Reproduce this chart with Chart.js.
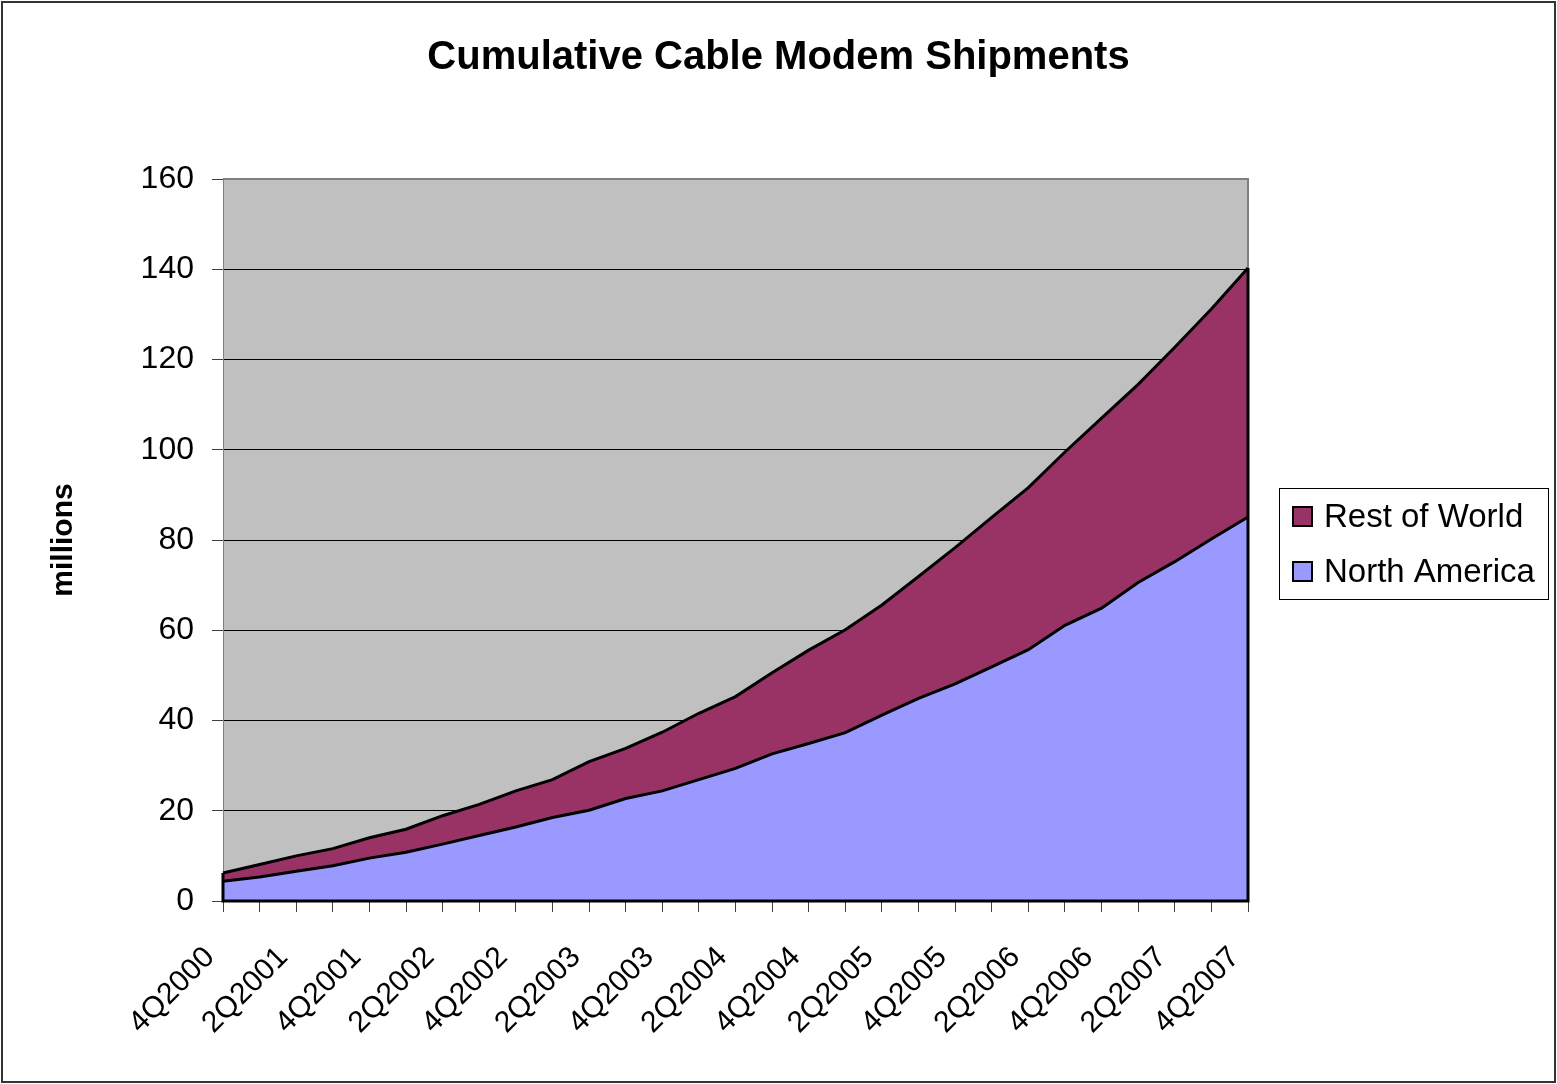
<!DOCTYPE html>
<html>
<head>
<meta charset="utf-8">
<title>Cumulative Cable Modem Shipments</title>
<script src="https://cdn.jsdelivr.net/npm/chart.js@4.4.0/dist/chart.umd.min.js"></script>
<style>
  html, body { margin: 0; padding: 0; background: #fff; }
  #wrap { width: 1557px; height: 1084px; }
</style>
</head>
<body>
<div id="wrap"><canvas id="chart0" width="1557" height="1084"></canvas></div>
<script>
var quarters = [
  "4Q2000",
  "1Q2001", "2Q2001", "3Q2001", "4Q2001",
  "1Q2002", "2Q2002", "3Q2002", "4Q2002",
  "1Q2003", "2Q2003", "3Q2003", "4Q2003",
  "1Q2004", "2Q2004", "3Q2004", "4Q2004",
  "1Q2005", "2Q2005", "3Q2005", "4Q2005",
  "1Q2006", "2Q2006", "3Q2006", "4Q2006",
  "1Q2007", "2Q2007", "3Q2007", "4Q2007"
];

// cumulative units, millions
var northAmerica = [
  4.4, 5.3, 6.6, 7.8, 9.5, 10.8, 12.6, 14.5, 16.4, 18.5,
  20.1, 22.7, 24.4, 26.9, 29.4, 32.6, 34.9, 37.3, 41.2, 44.9,
  48.1, 51.9, 55.7, 61.1, 64.9, 70.6, 75.2, 80.2, 85.1
];
var restOfWorld = [
  1.8, 2.8, 3.4, 3.8, 4.5, 5.1, 6.3, 6.9, 8.0, 8.4,
  10.8, 11.1, 13.0, 14.7, 15.9, 18.0, 20.7, 22.8, 24.4, 27.0,
  30.2, 33.1, 35.9, 38.4, 42.1, 43.9, 47.5, 51.0, 55.2
];

var yMin = 0;
var yMax = 160;
var yStep = 20;

var fontFamily = "'Liberation Sans', Arial, sans-serif";

// page frame, grey plot background and the plot border
var plotFrame = {
  id: "plotFrame",
  beforeDraw: function(chart) {
    var ctx = chart.ctx;
    var a = chart.chartArea;
    ctx.save();
    ctx.fillStyle = "#ffffff";
    ctx.fillRect(0, 0, chart.width, chart.height);
    ctx.strokeStyle = "#333333";
    ctx.lineWidth = 2;
    ctx.strokeRect(2, 2, chart.width - 4, chart.height - 4);
    ctx.fillStyle = "#c0c0c0";
    ctx.fillRect(a.left, a.top, a.right - a.left, a.bottom - a.top);
    ctx.restore();
  },
  beforeDatasetsDraw: function(chart) {
    var ctx = chart.ctx;
    var a = chart.chartArea;
    ctx.save();
    ctx.strokeStyle = "#808080";
    ctx.lineWidth = 2;
    ctx.beginPath();
    ctx.moveTo(a.left, a.top);
    ctx.lineTo(a.right, a.top);
    ctx.lineTo(a.right, a.bottom);
    ctx.stroke();
    ctx.restore();
  },
  // close the outline of the stacked areas at both ends and along the base
  afterDatasetsDraw: function(chart) {
    var ctx = chart.ctx;
    var pts = chart.getDatasetMeta(chart.data.datasets.length - 1).data;
    var first = pts[0];
    var last = pts[pts.length - 1];
    var y0 = chart.scales.y.getPixelForValue(0);
    ctx.save();
    ctx.strokeStyle = "#000000";
    ctx.lineWidth = 3;
    ctx.beginPath();
    ctx.moveTo(first.x, first.y);
    ctx.lineTo(first.x, y0);
    ctx.lineTo(last.x, y0);
    ctx.lineTo(last.x, last.y);
    ctx.stroke();
    ctx.restore();
  }
};

// boxed legend to the right of the plot, top series first
var boxLegend = {
  id: "boxLegend",
  afterDraw: function(chart) {
    var ctx = chart.ctx;
    var a = chart.chartArea;
    var left = a.right + 31;
    var top = (a.top + a.bottom) / 2 - 52;
    var items = chart.data.datasets.slice().reverse();
    ctx.save();
    ctx.strokeStyle = "#000000";
    ctx.lineWidth = 1;
    ctx.strokeRect(left + 0.5, top + 0.5, 269, 111);
    ctx.font = "33px " + fontFamily;
    ctx.textBaseline = "alphabetic";
    ctx.textAlign = "left";
    items.forEach(function(ds, i) {
      var base = top + 39 + i * 55;
      ctx.fillStyle = ds.backgroundColor;
      ctx.fillRect(left + 14, base - 20, 19, 19);
      ctx.lineWidth = 2;
      ctx.strokeRect(left + 14, base - 20, 19, 19);
      ctx.fillStyle = "#000000";
      ctx.fillText(ds.label, left + 45, base);
    });
    ctx.restore();
  }
};

var chartCanvas0 = document.getElementById("chart0").getContext("2d");

var chart0 = new Chart(chartCanvas0, {
  type: "line",
  data: {
    labels: quarters,
    datasets: [
      {
        label: "North America",
        data: northAmerica,
        backgroundColor: "#9999ff",
        borderColor: "#000000",
        borderWidth: 3,
        pointRadius: 0,
        tension: 0,
        fill: "origin"
      },
      {
        label: "Rest of World",
        data: restOfWorld,
        backgroundColor: "#993366",
        borderColor: "#000000",
        borderWidth: 3,
        pointRadius: 0,
        tension: 0,
        fill: "-1"
      }
    ]
  },
  options: {
    responsive: false,
    animation: false,
    plugins: {
      legend: { display: false },
      tooltip: { enabled: false },
      title: {
        display: true,
        text: "Cumulative Cable Modem Shipments",
        color: "#000000",
        font: { family: fontFamily, size: 40, weight: "bold" },
        padding: { top: 34, bottom: 97 }
      }
    },
    scales: {
      x: {
        offset: false,
        grid: {
          drawOnChartArea: false,
          tickLength: 11,
          tickColor: "#404040"
        },
        border: { color: "#000000", width: 2 },
        ticks: {
          autoSkip: false,
          minRotation: 45,
          maxRotation: 45,
          padding: 28,
          labelOffset: -13,
          color: "#000000",
          font: { family: fontFamily, size: 30 },
          callback: function(value, index) {
            return index % 2 === 0 ? this.getLabelForValue(value) : "";
          }
        },
        afterFit: function(scale) { scale.height = 183; }
      },
      y: {
        stacked: true,
        min: yMin,
        max: yMax,
        grid: {
          color: function(c) { return c.tick && c.tick.value === yMax ? "#808080" : "#000000"; },
          lineWidth: 1,
          tickLength: 11,
          tickColor: "#404040"
        },
        border: { color: "#808080", width: 1 },
        ticks: {
          stepSize: yStep,
          padding: 18,
          color: "#000000",
          font: { family: fontFamily, size: 32 }
        },
        title: {
          display: true,
          text: "millions",
          color: "#000000",
          font: { family: fontFamily, size: 30, weight: "bold" },
          padding: { top: 46, bottom: 0 }
        },
        afterFit: function(scale) { scale.width = 223; }
      },
      // empty right-hand axis that keeps room for the legend box
      legendSpace: {
        axis: "y",
        position: "right",
        grid: { display: false },
        border: { display: false },
        ticks: { display: false },
        afterFit: function(scale) { scale.width = 309; }
      }
    }
  },
  plugins: [plotFrame, boxLegend]
});
</script>
</body>
</html>
